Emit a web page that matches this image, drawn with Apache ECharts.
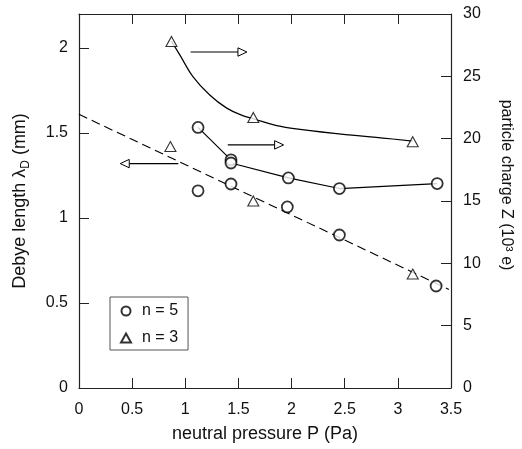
<!DOCTYPE html>
<html>
<head>
<meta charset="utf-8">
<script src="https://cdn.jsdelivr.net/npm/echarts@6/dist/echarts.min.js"></script>
<style>
  html, body { margin: 0; padding: 0; background: #fff; }
  #chart { width: 522px; height: 449px; }
</style>
</head>
<body>
<div id="chart"></div>
<script>
// Debye length (left axis, mm) versus neutral pressure (Pa)
const pressureN5 = [1.12, 1.43, 1.96, 2.45, 3.36];
const debyeN5 = [1.16, 1.20, 1.065, 0.90, 0.60];
const pressureN3 = [0.86, 1.64, 3.14];
const debyeN3 = [1.42, 1.10, 0.67];
// linear fit through all Debye-length points
const debyeFitP = [0, 3.48];
const debyeFit = [1.61, 0.58];

// Particle charge (right axis, 10^3 e) versus neutral pressure (Pa)
const chargePressureN5 = [1.12, 1.43, 1.43, 1.97, 2.45, 3.37];
const chargeN5 = [20.9, 18.3, 18.05, 16.85, 16.0, 16.4];
const chargePressureN3 = [0.87, 1.64, 3.14];
const chargeN3 = [27.8, 21.7, 19.75];
// guide curve through the n = 3 charge values
const chargeCurveP = [0.87, 0.95, 1.07, 1.23, 1.39, 1.54, 1.64, 1.86, 2.08, 2.54, 2.86, 3.14];
const chargeCurveZ = [27.8, 26.7, 25.0, 23.5, 22.45, 21.85, 21.6, 21.05, 20.75, 20.3, 20.05, 19.8];

// axis ticks
const pressureTicks = [0, 0.5, 1, 1.5, 2, 2.5, 3, 3.5];
const debyeTicks = [0, 0.5, 1, 1.5, 2];
const chargeTicks = [0, 5, 10, 15, 20, 25, 30];

// arrows pointing to the axis each curve belongs to: [tailP, value, tipP, value]
const arrowsToLeft = [[0.934, 1.32, 0.388, 1.32]];
const arrowsToRight = [[1.05, 26.95, 1.58, 26.95], [1.40, 19.5, 1.925, 19.5]];

const zip = (xs, ys) => xs.map((x, i) => [x, ys[i]]);

const FONT = '"Liberation Sans", Arial, Helvetica, sans-serif';
const INK = '#111';
const AXIS = '#222';

function arrowItem(params, api) {
  const a = api.coord([api.value(0), api.value(1)]);
  const b = api.coord([api.value(2), api.value(3)]);
  const dir = b[0] > a[0] ? 1 : -1;
  const headLen = 9, headHalf = 4.2;
  const base = b[0] - dir * headLen;
  return {
    type: 'group',
    children: [
      { type: 'line', shape: { x1: a[0], y1: a[1], x2: base, y2: b[1] },
        style: { stroke: '#000', lineWidth: 1.2 } },
      { type: 'polygon', shape: { points: [[b[0], b[1]], [base, b[1] - headHalf], [base, b[1] + headHalf]] },
        style: { fill: '#fff', stroke: '#000', lineWidth: 1 } }
    ]
  };
}

const valueAxisBase = (extra) => Object.assign({
  type: 'value',
  splitLine: { show: false },
  axisLine: { show: true, onZero: false, lineStyle: { color: AXIS, width: 1.2 } },
  axisTick: { show: true, inside: true, length: 10, lineStyle: { color: AXIS, width: 1 } },
  axisLabel: { fontSize: 16, color: INK, fontFamily: FONT },
  nameTextStyle: { fontSize: 16, color: INK, fontFamily: FONT }
}, extra);

const chart = echarts.init(document.getElementById('chart'), null, { renderer: 'canvas' });

chart.setOption({
  animation: false,
  backgroundColor: '#fff',
  grid: { left: 79, right: 70, top: 14, bottom: 61 },
  legend: {
    data: [{ name: 'n = 5', icon: 'circle' }, { name: 'n = 3', icon: 'triangle' }],
    orient: 'vertical',
    left: 110, top: 297,
    itemWidth: 10, itemHeight: 9, itemGap: 11,
    padding: [6, 10, 4, 10],
    borderColor: '#555', borderWidth: 1,
    textStyle: { fontSize: 16, color: INK, fontFamily: FONT, padding: [0, 0, 0, 6] }
  },
  xAxis: [
    valueAxisBase({
      min: 0, max: 3.5, interval: 0.5, position: 'bottom',
      name: 'neutral pressure P (Pa)', nameLocation: 'middle', nameGap: 37,
      nameTextStyle: { fontSize: 18, color: INK, fontFamily: FONT },
      axisLabel: { fontSize: 16, color: INK, fontFamily: FONT, margin: 14,
        formatter: v => pressureTicks.some(t => Math.abs(t - v) < 1e-6) ? String(v) : '' }
    }),
    valueAxisBase({
      min: 0, max: 3.5, interval: 0.5, position: 'top',
      axisLabel: { show: false }
    })
  ],
  yAxis: [
    valueAxisBase({
      min: 0, max: 2.2, interval: 0.5, position: 'left',
      name: '{a|Debye length λ}{s|D}{a| (mm)}', nameLocation: 'middle', nameGap: 47,
      nameTextStyle: {
        fontSize: 18, color: INK, fontFamily: FONT,
        rich: {
          a: { fontSize: 18, color: INK, fontFamily: FONT, lineHeight: 24 },
          s: { fontSize: 12, color: INK, fontFamily: FONT, lineHeight: 13, verticalAlign: 'bottom' }
        }
      },
      axisLabel: { fontSize: 16, color: INK, fontFamily: FONT, margin: 11,
        formatter: v => debyeTicks.some(t => Math.abs(t - v) < 1e-6) ? String(v) : '' }
    }),
    valueAxisBase({
      min: 0, max: 30, interval: 5, position: 'right',
      name: 'particle charge Z (10³ e)', nameLocation: 'middle', nameGap: 47, nameRotate: -90,
      nameTextStyle: { fontSize: 16, color: INK, fontFamily: FONT, padding: [0, 32, 0, 0] },
      axisLabel: { fontSize: 16, color: INK, fontFamily: FONT, margin: 12,
        formatter: v => chargeTicks.some(t => Math.abs(t - v) < 1e-6) ? String(v) : '' }
    })
  ],
  series: [
    {
      type: 'line', xAxisIndex: 0, yAxisIndex: 0, z: 1,
      data: zip(debyeFitP, debyeFit), showSymbol: false, silent: true,
      lineStyle: { color: '#000', width: 1.1, type: [9, 5] }
    },
    {
      type: 'line', xAxisIndex: 0, yAxisIndex: 1, z: 1,
      data: zip(chargeCurveP, chargeCurveZ), showSymbol: false, smooth: 0.4, silent: true,
      lineStyle: { color: '#000', width: 1.2 }
    },
    {
      type: 'line', xAxisIndex: 0, yAxisIndex: 1, z: 1,
      data: zip(chargePressureN5, chargeN5), showSymbol: false, silent: true,
      lineStyle: { color: '#000', width: 1.2 }
    },
    {
      type: 'custom', xAxisIndex: 0, yAxisIndex: 0, z: 2, silent: true,
      renderItem: arrowItem, data: arrowsToLeft,
      encode: { x: [0, 2], y: [1, 3] }
    },
    {
      type: 'custom', xAxisIndex: 0, yAxisIndex: 1, z: 2, silent: true,
      renderItem: arrowItem, data: arrowsToRight,
      encode: { x: [0, 2], y: [1, 3] }
    },
    {
      name: 'n = 5', type: 'scatter', xAxisIndex: 0, yAxisIndex: 0, z: 5,
      data: zip(pressureN5, debyeN5), symbol: 'circle', symbolSize: 11,
      itemStyle: { color: '#fff', borderColor: '#000', borderWidth: 1.8 }
    },
    {
      name: 'n = 5', type: 'scatter', xAxisIndex: 0, yAxisIndex: 1, z: 5,
      data: zip(chargePressureN5, chargeN5), symbol: 'circle', symbolSize: 11,
      itemStyle: { color: '#fff', borderColor: '#000', borderWidth: 1.8 }
    },
    {
      name: 'n = 3', type: 'scatter', xAxisIndex: 0, yAxisIndex: 0, z: 5,
      data: zip(pressureN3, debyeN3), symbol: 'triangle', symbolSize: [11, 10],
      itemStyle: { color: '#fff', borderColor: '#000', borderWidth: 1.1 }
    },
    {
      name: 'n = 3', type: 'scatter', xAxisIndex: 0, yAxisIndex: 1, z: 5,
      data: zip(chargePressureN3, chargeN3), symbol: 'triangle', symbolSize: [11, 10],
      itemStyle: { color: '#fff', borderColor: '#000', borderWidth: 1.1 }
    }
  ]
});
</script>
</body>
</html>
